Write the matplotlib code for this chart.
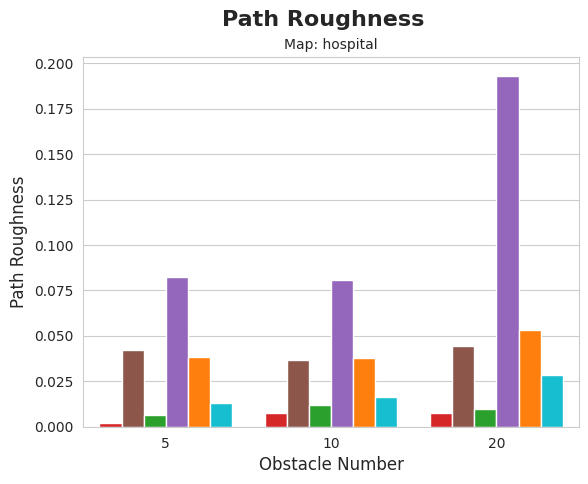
import matplotlib
matplotlib.use('Agg')
import matplotlib.pyplot as plt
import seaborn as sns
import numpy as np

# データ
obstacles = ['5', '10', '20']
methods = ['m1', 'm2', 'm3', 'm4', 'm5', 'm6']
colors = ['#d62728', '#8c564b', '#2ca02c', '#9467bd', '#ff7f0e', '#17becf']
roughness = [
    [0.0022, 0.0077, 0.0077],
    [0.0422, 0.0366, 0.0445],
    [0.0064, 0.0119, 0.0097],
    [0.0824, 0.0808, 0.1930],
    [0.0385, 0.0377, 0.0533],
    [0.0132, 0.0163, 0.0286],
]

sns.set_style('whitegrid')

fig, ax = plt.subplots(figsize=(5.88, 4.84), dpi=100)
x = np.arange(len(obstacles))
n = len(methods)
w = 0.8 / n
for i in range(n):
    ax.bar(x - 0.4 + w * (i + 0.5), roughness[i], width=w, color=colors[i],
           edgecolor='white', linewidth=1, label=methods[i])

ax.set_xticks(x)
ax.set_xticklabels(obstacles)
ax.set_xlim(-0.5, 2.5)
ax.set_ylim(0, 0.2033)
ax.set_yticks(np.arange(0, 0.201, 0.025))
ax.set_yticklabels(['%.3f' % v for v in np.arange(0, 0.201, 0.025)])
ax.grid(axis='x', visible=False)
ax.set_xlabel('Obstacle Number', fontsize=12)
ax.set_ylabel('Path Roughness', fontsize=12)
ax.set_title('Map: hospital', fontsize=10)
fig.suptitle('Path Roughness', fontsize=16, fontweight='bold', x=0.549, y=0.98)

fig.subplots_adjust(left=0.141, right=0.985, top=0.882, bottom=0.118)
fig.savefig('out.png')
